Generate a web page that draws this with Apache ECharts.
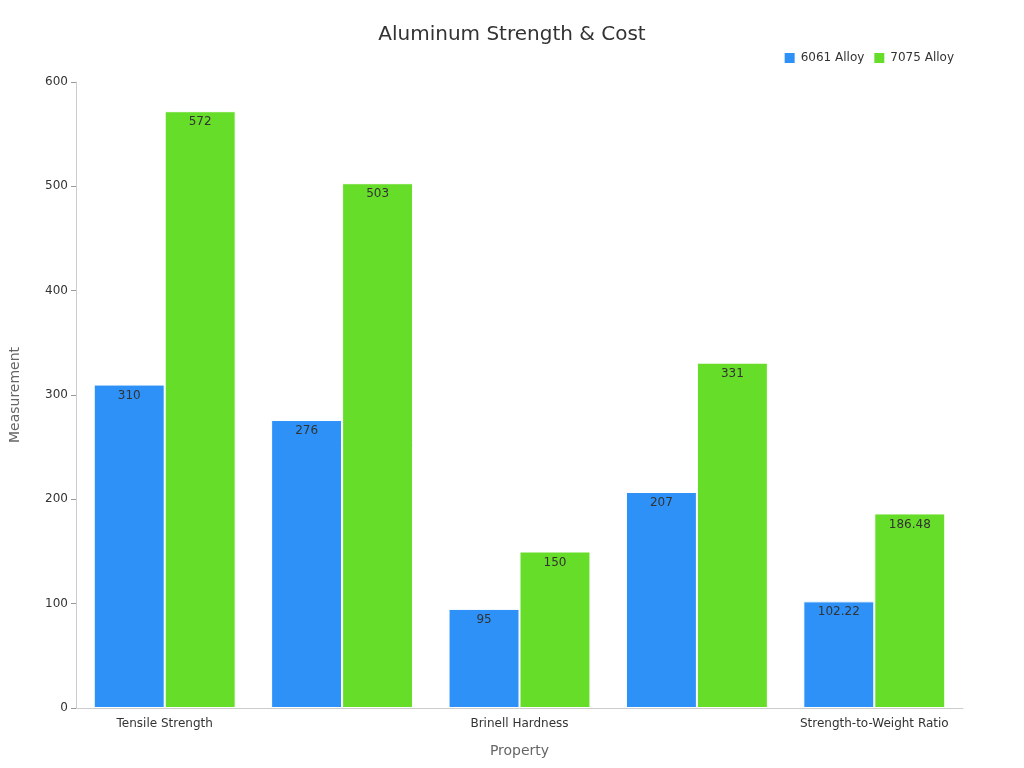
<!DOCTYPE html>
<html><head><meta charset="utf-8">
<script src="https://cdn.jsdelivr.net/npm/echarts@6/dist/echarts.min.js"></script>
<style>html,body{margin:0;padding:0}#c{width:1024px;height:768px}</style>
</head><body><div id="c"></div>
<script>
const categories = ["Tensile Strength","Yield Strength","Brinell Hardness","Shear Strength","Strength-to-Weight Ratio"];
const alloy6061 = [310, 276, 95, 207, 102.22];
const alloy7075 = [572, 503, 150, 331, 186.48];
const font = "DejaVu Sans";
const chart = echarts.init(document.getElementById('c'));
const lbl = {show:true, position:'insideTop', color:'#333', fontSize:12, fontFamily:font};
chart.setOption({
  textStyle:{fontFamily:font},
  title:{text:'Aluminum Strength & Cost', left:'center', top:20, textStyle:{fontSize:20, fontWeight:'normal', color:'#333', fontFamily:font}},
  legend:{top:46, right:65, itemWidth:12, itemHeight:12, icon:'rect', textStyle:{fontSize:12, color:'#333', fontFamily:font}, data:['6061 Alloy','7075 Alloy']},
  grid:{left:68, right:61, top:82, bottom:60},
  xAxis:{type:'category', data:categories, name:'Property', nameLocation:'middle', nameGap:36,
    nameTextStyle:{fontSize:14, color:'#666'}, axisTick:{show:false},
    axisLine:{lineStyle:{color:'#ccc'}}, axisLabel:{color:'#333', fontSize:12, margin:10}},
  yAxis:{type:'value', min:0, max:600, interval:100, name:'Measurement', nameLocation:'middle', nameGap:54,
    nameTextStyle:{fontSize:14, color:'#666'}, splitLine:{show:false},
    axisLine:{show:true, lineStyle:{color:'#ccc'}}, axisTick:{show:true, lineStyle:{color:'#999'}},
    axisLabel:{color:'#333', fontSize:12}},
  series:[
    {name:'6061 Alloy', type:'bar', data:alloy6061, barGap:'0%', barCategoryGap:'20%',
     itemStyle:{color:'#2d91f7', borderColor:'#fff', borderWidth:1}, label:lbl},
    {name:'7075 Alloy', type:'bar', data:alloy7075,
     itemStyle:{color:'#66dd28', borderColor:'#fff', borderWidth:1}, label:lbl}
  ]
});
</script></body></html>
